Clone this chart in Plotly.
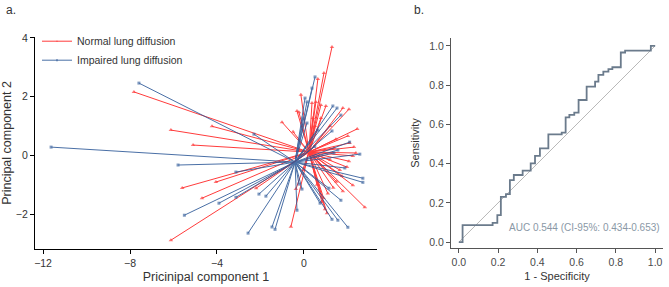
import plotly.graph_objects as go

# ---------------- Panel a data: PCA scores ----------------
normal_center = [0.23, 0.11]
normal_pc1 = [-7.82, -6.12, -5.10, -5.60, -6.12, -4.23, -4.05, -4.69, -2.20, -0.60,
              -0.37, 2.80, 1.06, 2.25, 1.79, 0.97, 0.83, 1.29, 0.92, 0.64,
              -0.14, 0.37, 0.55, 0.78, 1.01, 1.79, 2.07, -0.32, -0.23, -1.01,
              0.41, 0.78, 1.47, 2.10, 2.30, 2.39, 2.25, 2.02, 2.07, 1.98,
              1.38, 1.20, 1.65, 1.50, 1.10, 0.60, 1.20, 0.50, -0.50, 0.00,
              1.75, 1.35, 0.90, 2.45]
normal_pc2 = [2.16, 0.86, 0.35, -1.11, -2.89, 0.99, -0.91, -1.46, -1.12, -2.43,
              -1.15, -1.77, -1.97, -1.02, -1.22, -1.84, -1.60, 3.69, 2.80, 2.60,
              2.06, 1.78, 1.82, 1.71, 1.68, 1.61, 1.57, 1.51, 1.47, 1.13,
              1.27, 1.27, 0.55, 0.42, 0.28, 0.08, -0.02, 0.66, -0.20, -0.40,
              0.25, -0.15, -0.50, -0.90, -1.30, -1.00, 1.00, 1.00, 0.80, -0.50,
              -0.70, -1.10, -1.45, 0.90]

impaired_center = [-0.41, -0.23]
impaired_pc1 = [-11.63, -7.59, -5.79, -5.50, -2.30, -3.13, -3.91, -3.13, -2.07, -1.75,
                -2.57, -1.47, -1.33, -0.32, -0.23, -0.09, 2.02, 1.29, 1.56, 1.70,
                2.71, 2.71, 1.88, 1.15, 0.74, 2.10, 2.57, 0.51, 0.37, 0.05,
                0.14, 1.33, 1.52, 1.70, -0.05, 0.14, 0.64, 1.29, 1.56, 1.38, 0.50]
impaired_pc2 = [0.28, 2.46, -0.33, -2.04, 0.72, -0.57, -1.63, -1.43, -1.32, -1.39,
                -2.65, -2.44, -2.52, -1.87, -0.98, -1.15, -2.45, -2.18, -2.21, -1.53,
                -0.92, -0.78, -0.43, -1.12, -1.63, 0.45, 0.04, 2.67, 2.29, 1.95,
                1.82, 1.68, 1.61, 1.37, 1.27, 1.10, 0.86, 0.83, 0.18, 0.08, 0.30]

a_xticks = [-12, -8, -4, 0]
a_yticks = [-2, 0, 2, 4]

# ---------------- Panel b data: ROC curve ----------------
roc_fpr = [0.0, 0.019, 0.172, 0.196, 0.214, 0.240, 0.260, 0.280, 0.325, 0.366,
           0.388, 0.413, 0.456, 0.524, 0.544, 0.563, 0.588, 0.610, 0.651, 0.694,
           0.711, 0.736, 0.762, 0.782, 0.825, 0.847, 0.978, 1.0]
roc_tpr = [0.0, 0.087, 0.098, 0.138, 0.231, 0.245, 0.316, 0.342, 0.364, 0.401,
           0.439, 0.478, 0.549, 0.558, 0.636, 0.648, 0.660, 0.724, 0.792, 0.818,
           0.852, 0.869, 0.881, 0.891, 0.966, 0.976, 1.0, 1.0]
b_ticks = [0.0, 0.2, 0.4, 0.6, 0.8, 1.0]
auc_label = "AUC 0.544 (CI-95%: 0.434-0.653)"

RED = "#ff1a1a"
BLUE = "#2b5797"
FONT = "Arial"


def star(center, xs, ys, size):
    X, Y, S = [], [], []
    for x, y in zip(xs, ys):
        X += [center[0], x, None]
        Y += [center[1], y, None]
        S += [0, size, 0]
    return X, Y, S


fig = go.Figure()

for name, center, xs, ys, col, sym, sz in [
    ("Normal lung diffusion", normal_center, normal_pc1, normal_pc2, RED, "triangle-up", 4),
    ("Impaired lung diffusion", impaired_center, impaired_pc1, impaired_pc2, BLUE, "square", 3),
]:
    X, Y, S = star(center, xs, ys, sz)
    fig.add_trace(go.Scatter(
        x=X, y=Y, mode="lines+markers", name=name,
        line=dict(color=col, width=1), opacity=0.85,
        marker=dict(color=col, size=S, symbol=sym, line=dict(width=0)),
        xaxis="x", yaxis="y", connectgaps=False,
    ))

# ROC diagonal
fig.add_trace(go.Scatter(x=[0, 1], y=[0, 1], mode="lines",
                         line=dict(color="#b8b8b8", width=1),
                         showlegend=False, xaxis="x2", yaxis="y2"))
# ROC curve
fig.add_trace(go.Scatter(x=roc_fpr, y=roc_tpr, mode="lines", line_shape="hv",
                         line=dict(color="#6b7b8c", width=1.8),
                         showlegend=False, xaxis="x2", yaxis="y2"))

axis_a = dict(showgrid=False, zeroline=False, showline=True, ticks="outside",
              ticklen=4, automargin=False,
              tickfont=dict(family=FONT, size=10.5, color="#333333"))
axis_b = dict(showgrid=False, zeroline=False, showline=True, ticks="outside",
              ticklen=4, automargin=False,
              tickfont=dict(family=FONT, size=10.5, color="#4a4a4a"))

fig.update_layout(
    width=669, height=287, autosize=False,
    margin=dict(l=0, r=0, t=0, b=0, autoexpand=False),
    paper_bgcolor="white", plot_bgcolor="white",
    font=dict(family=FONT, size=11, color="#333333"),
    showlegend=True,
    legend=dict(x=37/669, y=0.907, xanchor="left", yanchor="top",
                bgcolor="rgba(0,0,0,0)", font=dict(size=10.5, color="#333333"),
                tracegroupgap=2, itemwidth=30),
    xaxis=dict(domain=[35/669, 377/669], range=[-12.37, 3.36], tickvals=a_xticks,
               linecolor="black", linewidth=1.3, tickcolor="black",
               title=dict(text="Pricinipal component 1", standoff=4,
                          font=dict(size=12.5, color="#333333")),
               anchor="y", **axis_a),
    yaxis=dict(domain=[(287-249)/287, (287-37)/287], range=[-3.19, 4.03], tickvals=a_yticks,
               linecolor="black", linewidth=1.3, tickcolor="black",
               title=dict(text="Principal component 2", standoff=3,
                          font=dict(size=12.5, color="#333333")),
               anchor="x", **axis_a),
    xaxis2=dict(domain=[451/669, 663/669], range=[-0.04, 1.04], tickvals=b_ticks,
                tickformat=".1f", linecolor="#555555", linewidth=1.3, tickcolor="#555555",
                title=dict(text="1 - Specificity", standoff=5,
                           font=dict(size=11, color="#333333")),
                anchor="y2", **axis_b),
    yaxis2=dict(domain=[(287-248)/287, (287-38)/287], range=[-0.03, 1.04], tickvals=b_ticks,
                tickformat=".1f", linecolor="#555555", linewidth=1.3, tickcolor="#555555",
                title=dict(text="Sensitivity", standoff=7,
                           font=dict(size=11, color="#333333")),
                anchor="x2", **axis_b),
    annotations=[
        dict(text="a.", x=4/669, y=1 - 10/287, xref="paper", yref="paper",
             xanchor="left", yanchor="middle", showarrow=False,
             font=dict(size=12, color="#333333")),
        dict(text="b.", x=412/669, y=1 - 10/287, xref="paper", yref="paper",
             xanchor="left", yanchor="middle", showarrow=False,
             font=dict(size=12, color="#333333")),
        dict(text=auc_label, x=1.035, y=0.077, xref="x2", yref="y2",
             xanchor="right", yanchor="middle", showarrow=False,
             font=dict(size=10, color="#8a98a6")),
    ],
)

fig.write_html("out.html", config={"displayModeBar": False},
               post_script="document.body.style.margin='0px';")
